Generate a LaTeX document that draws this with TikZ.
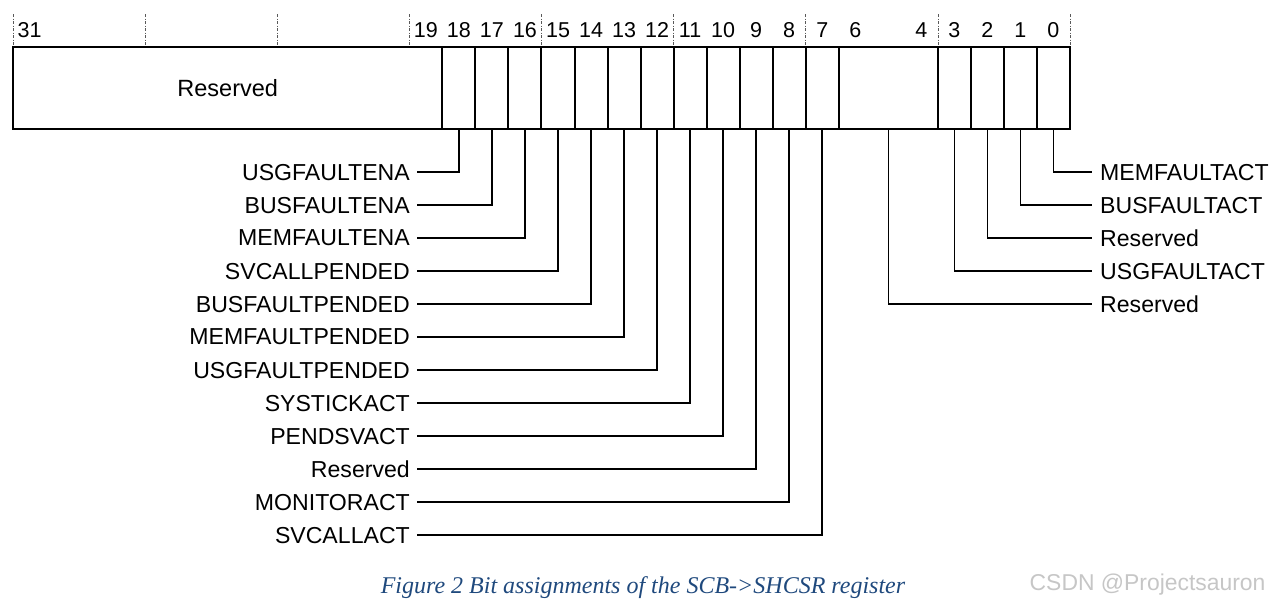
\documentclass[tikz,border=0pt]{standalone}
\usepackage{fontspec}
\setmainfont{Liberation Sans}
\newfontfamily\capfont{Liberation Serif}
\usepackage{xcolor}
\usepackage{tikz}
\usetikzlibrary{positioning,calc}
\definecolor{capblue}{RGB}{31,73,125}

\begin{document}
\begin{tikzpicture}[x=1pt,y=-1pt,
  cell/.style={draw,line width=2pt,minimum height=82pt,inner sep=0pt},
  lbl/.style={inner xsep=7pt,inner ysep=0pt,text depth=0pt,
              font=\fontsize{23.1}{27}\selectfont},
  num/.style={anchor=base,inner sep=0pt,font=\fontsize{21.5}{26}\selectfont},
  conn/.style={line width=1.6pt},
  tick/.style={line width=0.6pt,gray!70!black,
               dash pattern=on 3pt off 1.5pt on 1pt off 1.5pt}]
  \useasboundingbox (0,0) rectangle (1273,606);

  % register cells
  \node[cell,minimum width=429.39pt,font=\fontsize{23.5}{28}\selectfont]
       (c31) at (227.7,88) {Reserved};
  \foreach \b in {18,17,...,7,3,2,1,0}
    \node[cell,minimum width=33.03pt] (c\b) at ({13+(31.5-\b)*33.03},88) {};
  \node[cell,minimum width=99.09pt] (c64) at (888.3,88) {};

  % bit numbers and ticks
  \foreach \b in {31,19,18,17,16,15,14,13,12,11,10,9,8,7,6,4,3,2,1,0}
    \node[num] (n\b) at ({13+(31.5-\b)*33.03},37) {\b};
  \foreach \k in {0,4,...,32}
    \draw[tick] ({13+\k*33.03},14) -- ({13+\k*33.03},45);

  % left hand fields
  \foreach \b/\txt in {18/USGFAULTENA,17/BUSFAULTENA,16/MEMFAULTENA,
                       15/SVCALLPENDED,14/BUSFAULTPENDED,13/MEMFAULTPENDED,
                       12/USGFAULTPENDED,11/SYSTICKACT,10/PENDSVACT,
                       9/Reserved,8/MONITORACT,7/SVCALLACT} {
    \node[lbl,anchor=east] (l\b) at (417,{172+33*(18-\b)}) {\txt};
    \draw[conn] (c\b.south) |- (l\b.east);
  }

  % right hand fields
  \foreach \b/\y/\txt in {0/172/MEMFAULTACT,1/205/BUSFAULTACT,2/238/Reserved,
                          3/271/USGFAULTACT,64/304/Reserved} {
    \node[lbl,anchor=west,inner xsep=8pt] (r\b) at (1092,\y) {\txt};
    \draw[conn] (c\b.south) |- (r\b.west);
  }

  \node[capblue,font=\capfont\itshape\fontsize{24}{28}\selectfont]
       (cap) at (643,588) {Figure 2 Bit assignments of the SCB->SHCSR register};
  \node[gray!45,anchor=east,font=\fontsize{22.9}{27}\selectfont]
       (wm) at (1269,585) {CSDN @Projectsauron};
\end{tikzpicture}
\end{document}
